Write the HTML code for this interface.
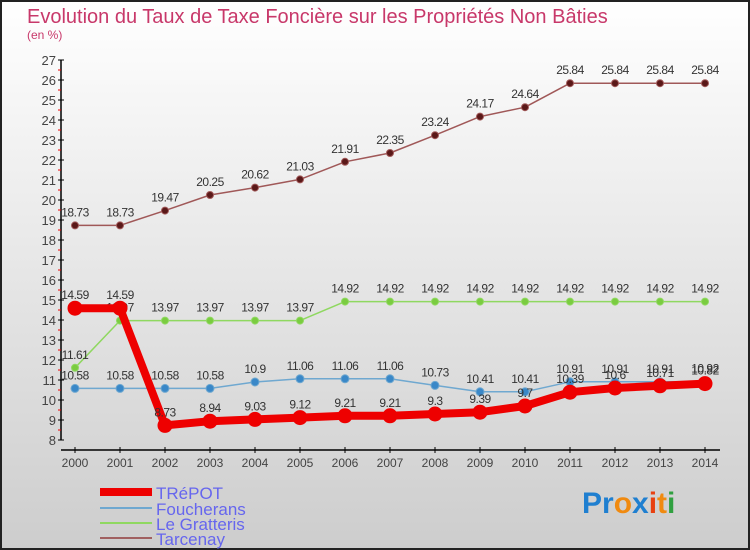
<!DOCTYPE html>
<html><head><meta charset="utf-8"><style>
body{margin:0;width:750px;height:550px;overflow:hidden}
svg{display:block;font-family:"Liberation Sans",sans-serif}
</style></head><body>
<svg id="c" width="750" height="550">
<defs><linearGradient id="bg" x1="0" y1="0" x2="0" y2="1"><stop offset="0" stop-color="#ffffff"/><stop offset="1" stop-color="#cdcdcd"/></linearGradient></defs>
<rect x="1" y="1" width="748" height="548" fill="url(#bg)" stroke="#222" stroke-width="2"/>
<text x="27" y="23" font-size="20" fill="#c8386a">Evolution du Taux de Taxe Foncière sur les Propriétés Non Bâties</text>
<text x="27" y="39" font-size="12" fill="#c8386a">(en %)</text>
<g id="axes"></g><g id="series"></g>
<g>
<line x1="100" y1="492" x2="152" y2="492" stroke="#ee0000" stroke-width="8"/>
<text x="156" y="499" font-size="17" fill="#6666ee">TRéPOT</text>
<line x1="100" y1="508" x2="152" y2="508" stroke="#6fa8d0" stroke-width="2"/>
<text x="156" y="515" font-size="17" fill="#6666ee">Foucherans</text>
<line x1="100" y1="523" x2="152" y2="523" stroke="#8fd860" stroke-width="2"/>
<text x="156" y="530" font-size="17" fill="#6666ee">Le Gratteris</text>
<line x1="100" y1="538" x2="152" y2="538" stroke="#a06060" stroke-width="2"/>
<text x="156" y="545" font-size="17" fill="#6666ee">Tarcenay</text>
</g>
<g font-size="30" font-weight="bold">
<text x="582" y="513"><tspan fill="#1f7fd0">Pr</tspan><tspan fill="#f08a10">o</tspan><tspan fill="#1f7fd0">x</tspan><tspan fill="#e84010">i</tspan><tspan fill="#f08a10">t</tspan><tspan fill="#30a040">i</tspan></text>
</g>
</svg>
<script>
const years=[2000,2001,2002,2003,2004,2005,2006,2007,2008,2009,2010,2011,2012,2013,2014];
const yTicks=[8,9,10,11,12,13,14,15,16,17,18,19,20,21,22,23,24,25,26,27];
const trepot=[14.59,14.59,8.73,8.94,9.03,9.12,9.21,9.21,9.3,9.39,9.7,10.39,10.6,10.71,10.82];
const foucherans=[10.58,10.58,10.58,10.58,10.9,11.06,11.06,11.06,10.73,10.41,10.41,10.91,10.91,10.91,10.92];
const gratteris=[11.61,13.97,13.97,13.97,13.97,13.97,14.92,14.92,14.92,14.92,14.92,14.92,14.92,14.92,14.92];
const tarcenay=[18.73,18.73,19.47,20.25,20.62,21.03,21.91,22.35,23.24,24.17,24.64,25.84,25.84,25.84,25.84];
const NS='http://www.w3.org/2000/svg';
const xs=i=>75+i*45;
const ys=v=>440-(v-8)*20;
function mk(tag,attrs,parent,text){const e=document.createElementNS(NS,tag);for(const k in attrs)e.setAttribute(k,attrs[k]);if(text!==undefined)e.textContent=text;parent.appendChild(e);return e;}
const ax=document.getElementById('axes');
let yl=mk('line',{x1:61,y1:ys(27),x2:61,y2:ys(8),stroke:'#000','stroke-width':1.5},ax);


yTicks.forEach(t=>{
 mk('line',{x1:58,y1:ys(t),x2:64,y2:ys(t),stroke:'#000'},ax);
 if(t<27)mk('line',{x1:58,y1:ys(t+0.5),x2:61,y2:ys(t+0.5),stroke:'#e00'},ax);
 const l=mk('text',{x:56,y:ys(t)+5,'font-size':13,fill:'#444','text-anchor':'end'},ax,String(t));
 
 
});
let xl=mk('line',{x1:61,y1:450,x2:720,y2:450,stroke:'#000','stroke-width':1.5},ax);


years.forEach((y,i)=>{
 mk('line',{x1:xs(i),y1:447,x2:xs(i),y2:453,stroke:'#000'},ax);
 const l=mk('text',{x:xs(i),y:467,'font-size':12,fill:'#444','text-anchor':'middle'},ax,String(y));
 
 
});
const sg=document.getElementById('series');
function series(vals,name,color,w,r,dot){
 const g=mk('g',{},sg);
 
 
 const p=mk('polyline',{points:vals.map((v,i)=>xs(i)+','+ys(v)).join(' '),fill:'none',stroke:color,'stroke-width':w,'stroke-linejoin':'round'},g);
 
 
 vals.forEach((v,i)=>{
  const c=mk('circle',{cx:xs(i),cy:ys(v),r:r,fill:dot,stroke:color,'stroke-width':1},g);
  
  
  const t=mk('text',{x:xs(i),y:ys(v)-9,'font-size':12,fill:'#333','text-anchor':'middle','letter-spacing':'-0.5'},g,String(v));
  
  
 });
}
series(tarcenay,'tarcenay','#a05858',1.5,3.5,'#5a1818');
series(gratteris,'le-gratteris','#8fd860',1.5,3.5,'#7acc40');
series(foucherans,'foucherans','#6fa8d0',1.5,4,'#3a88c8');
series(trepot,'trepot','#ee0000',8,7,'#ee0000');
</script>
</body></html>
